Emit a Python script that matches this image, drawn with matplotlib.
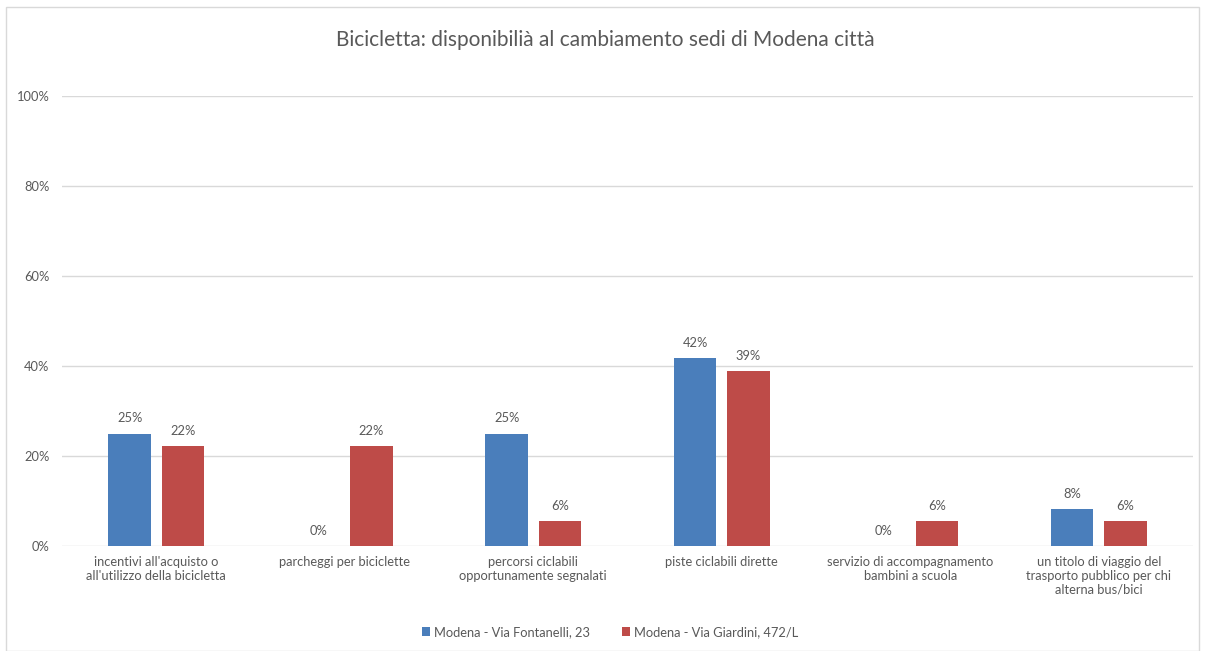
import matplotlib.pyplot as plt
import numpy as np
from matplotlib.patches import Rectangle

categories = [
    "incentivi all'acquisto o\nall'utilizzo della bicicletta",
    "parcheggi per biciclette",
    "percorsi ciclabili\nopportunamente segnalati",
    "piste ciclabili dirette",
    "servizio di accompagnamento\nbambini a scuola",
    "un titolo di viaggio del\ntrasporto pubblico per chi\nalterna bus/bici",
]
fontanelli = [25.0, 0.0, 25.0, 41.7, 0.0, 8.3]
giardini = [22.2, 22.2, 5.6, 38.9, 5.6, 5.6]
series_names = ["Modena - Via Fontanelli, 23", "Modena - Via Giardini, 472/L"]
yticks = [0, 20, 40, 60, 80, 100]

plt.rcParams["font.family"] = ["Lato", "DejaVu Sans"]
grey = "#595959"
blue = "#4a7ebb"
red = "#be4b48"
fs = 9.3

fig = plt.figure(figsize=(12.06, 6.51), dpi=100)
ax = fig.add_axes([62 / 1206, 1 - 546 / 651, (1193 - 62) / 1206, 450 / 651])

# cornice del grafico
fig.patches.append(Rectangle((6 / 1206, 0), 1193 / 1206, 1 - 7 / 651,
                             transform=fig.transFigure, fill=False,
                             edgecolor="#d9d9d9", linewidth=1))

x = np.arange(len(categories))
w = 0.225
off = 0.141
b1 = ax.bar(x - off, fontanelli, w, color=blue, label=series_names[0], zorder=3)
b2 = ax.bar(x + off, giardini, w, color=red, label=series_names[1], zorder=3)

for bars in (b1, b2):
    for r in bars:
        h = r.get_height()
        ax.text(r.get_x() + r.get_width() / 2, h + 2.0, f"{round(h):.0f}%",
                ha="center", va="bottom", fontsize=fs, color=grey)

ax.set_xlim(-0.5, len(categories) - 0.5)
ax.set_ylim(0, 100)
ax.set_yticks(yticks)
ax.set_yticklabels([f"{t}%" for t in yticks])
ax.set_xticks(x)
ax.set_xticklabels(categories)
ax.tick_params(axis="both", length=0, labelsize=fs, labelcolor=grey)
ax.tick_params(axis="y", pad=9)
ax.tick_params(axis="x", pad=7)
ax.grid(axis="y", color="#d9d9d9", linewidth=1, zorder=0)
for s in ax.spines.values():
    s.set_visible(False)

fig.text(605 / 1206, 1 - 40 / 651, "Bicicletta: disponibilià al cambiamento sedi di Modena città",
         ha="center", va="center", fontsize=15, color=grey)

fig.legend(handles=[b1, b2], loc="center", bbox_to_anchor=(610 / 1206, 1 - 632 / 651),
           ncol=2, frameon=False, fontsize=fs, labelcolor=grey,
           handlelength=0.6, handleheight=0.6, handletextpad=0.3, columnspacing=2.5)

fig.savefig("out.png", dpi=100)
